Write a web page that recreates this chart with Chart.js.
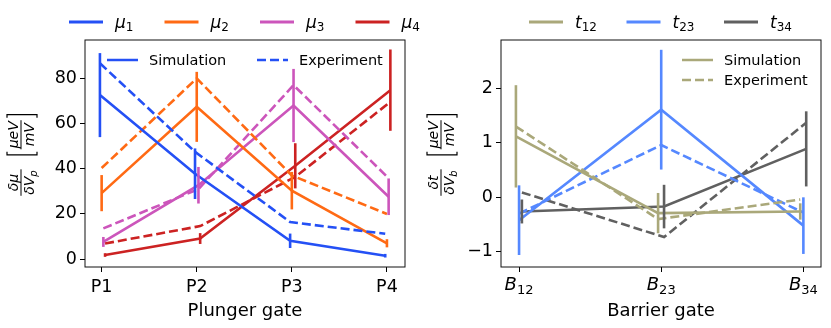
<!DOCTYPE html>
<html>
<head>
<meta charset="utf-8">
<script src="https://cdn.jsdelivr.net/npm/chart.js@4/dist/chart.umd.min.js"></script>
<style>
  body { margin: 0; background: #fff; }
  #wrap { position: relative; width: 831px; height: 328px; }
  .box { position: absolute; top: 0; height: 328px; }
</style>
</head>
<body>
<div id="wrap">
  <div class="box" style="left:0;width:420px"><canvas id="chart1"></canvas></div>
  <div class="box" style="left:420px;width:411px"><canvas id="chart2"></canvas></div>
</div>
<script>
// ---- data ----
const plungers = ['P1', 'P2', 'P3', 'P4'];
const muYTicks = [0, 20, 40, 60, 80];

const mu1Sim = [72.6, 37.8, 8.1, 1.5];
const mu1Exp = [86.7, 47.5, 16.4, 11.2];
const mu1Err = [18.6, 11.2, 3.2, 0.8];

const mu2Sim = [29.2, 67.4, 30.3, 7.0];
const mu2Exp = [40.3, 80.0, 37.0, 20.0];
const mu2Err = [8.0, 15.5, 8.3, 1.8];

const mu3Sim = [7.6, 32.7, 68.0, 27.6];
const mu3Exp = [13.6, 31.0, 77.0, 35.8];
const mu3Err = [2.2, 8.1, 16.2, 8.1];

const mu4Sim = [1.8, 9.1, 41.3, 74.8];
const mu4Exp = [6.9, 14.6, 36.4, 69.6];
const mu4Err = [0.8, 2.4, 10.0, 18.0];

const barriers = ['B12', 'B23', 'B34'];
const tYTicks = [-1, 0, 1, 2];

const t12Sim = [1.12, -0.29, -0.26];
const t12Exp = [1.30, -0.40, -0.04];
const t12Err = [0.94, 0.37, 0.15];

const t23Sim = [-0.42, 1.61, -0.52];
const t23Exp = [-0.30, 0.96, -0.28];
const t23Err = [0.64, 1.10, 0.52];

const t34Sim = [-0.26, -0.17, 0.89];
const t34Exp = [0.09, -0.73, 1.37];
const t34Err = [0.22, 0.40, 0.69];

const FONT = "'DejaVu Sans', sans-serif";
const C_MU = ['#2450f5', '#ff6a14', '#cc55bb', '#cc2222'];
const C_T = ['#aaa87a', '#5588ff', '#606060'];

// symbol in italic with an upright smaller subscript, like mathtext
function drawSub(ctx, x, y, base, sub, size, subItalic) {
  ctx.font = 'italic ' + size + 'px ' + FONT;
  ctx.fillText(base, x, y);
  const w = ctx.measureText(base).width;
  ctx.font = (subItalic ? 'italic ' : '') + Math.round(size * 0.7) + 'px ' + FONT;
  ctx.fillText(sub, x + w, y + size * 0.22);
  return w + ctx.measureText(sub).width;
}

function subWidth(ctx, base, sub, size, subItalic) {
  ctx.font = 'italic ' + size + 'px ' + FONT;
  const w = ctx.measureText(base).width;
  ctx.font = (subItalic ? 'italic ' : '') + Math.round(size * 0.7) + 'px ' + FONT;
  return w + ctx.measureText(sub).width;
}

// vertical error bars taken from dataset.err
const errorBars = {
  id: 'errorBars',
  afterDatasetsDraw(chart) {
    const {ctx, scales: {x, y}} = chart;
    chart.data.datasets.forEach((ds, i) => {
      if (!ds.err) return;
      ctx.save();
      ctx.strokeStyle = ds.borderColor;
      ctx.lineWidth = ds.borderWidth;
      ds.data.forEach((p, j) => {
        const px = x.getPixelForValue(p.x);
        ctx.beginPath();
        ctx.moveTo(px, y.getPixelForValue(p.y - ds.err[j]));
        ctx.lineTo(px, y.getPixelForValue(p.y + ds.err[j]));
        ctx.stroke();
      });
      ctx.restore();
    });
  }
};

// axes box, legends and the fraction y label
const decorations = {
  id: 'decorations',
  afterDraw(chart, args, opts) {
    const ctx = chart.ctx;
    const a = chart.chartArea;
    ctx.save();
    ctx.strokeStyle = '#111';
    ctx.lineWidth = 1;
    ctx.strokeRect(a.left, a.top, a.right - a.left, a.bottom - a.top);

    ctx.fillStyle = '#000';
    ctx.textBaseline = 'alphabetic';
    ctx.lineWidth = 3;
    // top legend
    opts.top.forEach((it, i) => {
      const x0 = opts.topX + i * opts.topStep;
      ctx.strokeStyle = it.color;
      ctx.beginPath();
      ctx.moveTo(x0, 22);
      ctx.lineTo(x0 + 34, 22);
      ctx.stroke();
      drawSub(ctx, x0 + 46, 27.5, it.base, it.sub, 17, false);
    });

    // inner legend: Simulation / Experiment
    ctx.lineWidth = 2.5;
    opts.inner.forEach((it, i) => {
      ctx.strokeStyle = opts.innerColor;
      ctx.setLineDash(i === 1 ? [9, 4] : []);
      ctx.beginPath();
      ctx.moveTo(it.x, it.y);
      ctx.lineTo(it.x + 31, it.y);
      ctx.stroke();
      ctx.setLineDash([]);
      ctx.font = '14.5px ' + FONT;
      ctx.fillText(it.text, it.x + 42, it.y + 5);
    });

    // custom x tick labels with subscripts
    if (opts.subTicks) {
      const xs = chart.scales.x;
      xs.ticks.forEach(t => {
        const lab = opts.subTicks[t.value];
        const w = subWidth(ctx, lab.charAt(0), lab.slice(1), 18, false);
        drawSub(ctx, xs.getPixelForValue(t.value) - w / 2, 290, lab.charAt(0), lab.slice(1), 18, false);
      });
    }

    drawYLabel(ctx, opts.yl.cx, opts.yl.cy, opts.yl.num, opts.yl.den, opts.yl.sub);
    ctx.restore();
  }
};

function drawYLabel(ctx, cx, cy, num, den, sub) {
  const fs = 14;
  const it = 'italic ' + fs + 'px ' + FONT;
  ctx.save();
  ctx.translate(cx, cy);
  ctx.rotate(-Math.PI / 2);
  ctx.fillStyle = '#000';
  ctx.strokeStyle = '#000';
  ctx.lineWidth = 1;
  ctx.textBaseline = 'alphabetic';

  ctx.font = it;
  const nW = ctx.measureText(num).width;
  const dW = subWidth(ctx, den, sub, fs, true);
  const f1 = Math.max(nW, dW) + 2;
  ctx.font = it;
  const n2 = ctx.measureText('μeV').width;
  const d2 = ctx.measureText('mV').width;
  const f2 = Math.max(n2, d2) + 2;
  const gap = 14, br = 6;
  const total = f1 + gap + br + f2 + br;
  let x = -total / 2;

  // first fraction
  ctx.font = it;
  ctx.fillText(num, x + (f1 - nW) / 2, -3.5);
  drawSub(ctx, x + (f1 - dW) / 2, 13, den, sub, fs, true);
  ctx.beginPath(); ctx.moveTo(x, 0); ctx.lineTo(x + f1, 0); ctx.stroke();
  x += f1 + gap;

  // [ fraction ]
  ctx.lineWidth = 1.2;
  ctx.beginPath();
  ctx.moveTo(x + 3.5, -14); ctx.lineTo(x + 0.5, -14); ctx.lineTo(x + 0.5, 16); ctx.lineTo(x + 3.5, 16);
  ctx.stroke();
  x += br;
  ctx.font = it;
  ctx.fillText('μeV', x + (f2 - n2) / 2, -3.5);
  ctx.fillText('mV', x + (f2 - d2) / 2, 13);
  ctx.lineWidth = 1;
  ctx.beginPath(); ctx.moveTo(x, 0); ctx.lineTo(x + f2, 0); ctx.stroke();
  x += f2;
  ctx.lineWidth = 1.2;
  ctx.beginPath();
  ctx.moveTo(x + br - 3.5, -14); ctx.lineTo(x + br - 0.5, -14); ctx.lineTo(x + br - 0.5, 16); ctx.lineTo(x + br - 3.5, 16);
  ctx.stroke();
  ctx.restore();
}

function pair(sim, exp, err, color, shift) {
  const pts = arr => arr.map((v, i) => ({x: i + shift, y: v}));
  return [
    {label: 'Simulation', data: pts(sim), err: err, borderColor: color, borderWidth: 2.6, pointRadius: 0, fill: false, tension: 0},
    {label: 'Experiment', data: pts(exp), borderColor: color, borderWidth: 2.6, borderDash: [9, 4], pointRadius: 0, fill: false, tension: 0}
  ];
}

function axisOpts(min, max, ticks, fitW, fitH) {
  return {
    x: {
      type: 'linear', min: min[0], max: max[0],
      afterBuildTicks: s => { s.ticks = ticks[0].map((_, i) => ({value: i})); },
      afterFit: s => { s.height = fitH; },
      grid: {drawOnChartArea: false, color: '#000', tickLength: 5},
      border: {display: false},
      ticks: {color: '#000', font: {family: FONT, size: 17.5}, padding: 5, maxRotation: 0,
        callback: v => ticks[2] ? '' : ticks[0][v]},
      title: {display: true, text: ticks[3], color: '#000', font: {family: FONT, size: 18}, padding: {top: 0, bottom: 6}}
    },
    y: {
      min: min[1], max: max[1],
      afterBuildTicks: s => { s.ticks = ticks[1].map(v => ({value: v})); },
      afterFit: s => { s.width = fitW; },
      grid: {drawOnChartArea: false, color: '#000', tickLength: 5},
      border: {display: false},
      ticks: {color: '#000', font: {family: FONT, size: 17.5}, padding: 3,
        callback: v => v < 0 ? '\u2212' + Math.abs(v) : '' + v}
    }
  };
}

const chart1 = new Chart(document.getElementById('chart1'), {
  type: 'line',
  data: {
    datasets: [
      ...pair(mu1Sim, mu1Exp, mu1Err, C_MU[0], -0.018),
      ...pair(mu2Sim, mu2Exp, mu2Err, C_MU[1], 0),
      ...pair(mu3Sim, mu3Exp, mu3Err, C_MU[2], 0.018),
      ...pair(mu4Sim, mu4Exp, mu4Err, C_MU[3], 0.036)
    ]
  },
  options: {
    responsive: true,
    maintainAspectRatio: false,
    animation: false,
    layout: {padding: {top: 40, right: 15, left: 0, bottom: 0}},
    scales: axisOpts([-0.175, -3.5], [3.19, 97], [plungers, muYTicks, false, 'Plunger gate'], 85, 61),
    plugins: {
      legend: {display: false},
      tooltip: {enabled: false},
      decorations: {
        top: [
          {color: C_MU[0], base: 'μ', sub: '1'},
          {color: C_MU[1], base: 'μ', sub: '2'},
          {color: C_MU[2], base: 'μ', sub: '3'},
          {color: C_MU[3], base: 'μ', sub: '4'}
        ],
        topX: 69, topStep: 95.5,
        innerColor: C_MU[0],
        inner: [
          {text: 'Simulation', x: 107, y: 60},
          {text: 'Experiment', x: 257, y: 60}
        ],
        yl: {cx: 21, cy: 155, num: 'δμ', den: 'δV', sub: 'p'}
      }
    }
  },
  plugins: [errorBars, decorations]
});

const chart2 = new Chart(document.getElementById('chart2'), {
  type: 'line',
  data: {
    datasets: [
      ...pair(t12Sim, t12Exp, t12Err, C_T[0], -0.022),
      ...pair(t23Sim, t23Exp, t23Err, C_T[1], 0),
      ...pair(t34Sim, t34Exp, t34Err, C_T[2], 0.02)
    ]
  },
  options: {
    responsive: true,
    maintainAspectRatio: false,
    animation: false,
    layout: {padding: {top: 40, right: 10, left: 0, bottom: 0}},
    scales: axisOpts([-0.127, -1.28], [2.124, 2.89], [barriers, tYTicks, true, 'Barrier gate'], 81, 61),
    plugins: {
      legend: {display: false},
      tooltip: {enabled: false},
      decorations: {
        top: [
          {color: C_T[0], base: 't', sub: '12'},
          {color: C_T[1], base: 't', sub: '23'},
          {color: C_T[2], base: 't', sub: '34'}
        ],
        topX: 109, topStep: 97.5,
        innerColor: C_T[0],
        inner: [
          {text: 'Simulation', x: 262, y: 60},
          {text: 'Experiment', x: 262, y: 80}
        ],
        subTicks: barriers,
        yl: {cx: 21, cy: 155, num: 'δt', den: 'δV', sub: 'b'}
      }
    }
  },
  plugins: [errorBars, decorations]
});
</script>
</body>
</html>
